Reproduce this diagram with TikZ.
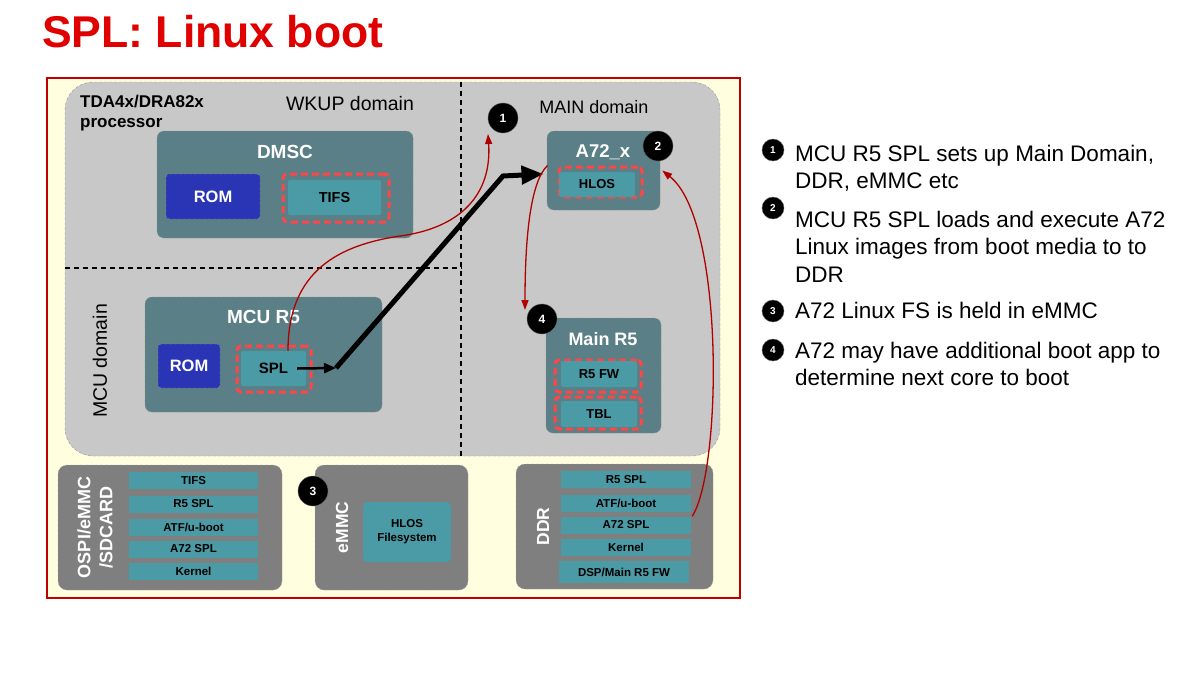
\documentclass[tikz,border=0pt]{standalone}
\usepackage{fontspec}
\setmainfont{Liberation Sans}
\usetikzlibrary{positioning,arrows.meta,calc}
\definecolor{SlideRed}{HTML}{E00000}
\definecolor{FrameRed}{HTML}{C00000}
\definecolor{PanelYellow}{HTML}{FFFFE0}
\definecolor{SocGray}{HTML}{C8C8C8}
\definecolor{CoreTeal}{HTML}{5B7F86}
\definecolor{RomBlue}{HTML}{2A35B6}
\definecolor{FwTeal}{HTML}{4A9BA6}
\definecolor{MediaGray}{HTML}{7F7F7F}
\definecolor{DashRed}{HTML}{FF4646}
\definecolor{FlowRed}{HTML}{B00000}

\begin{document}
\begin{tikzpicture}[
  x=1pt, y=-1pt,
  core/.style={draw=black!45, densely dashed, fill=CoreTeal, rounded corners=7pt, inner sep=0pt},
  corelabel/.style={anchor=base, text=white, inner sep=0pt, font=\bfseries\fontsize{19}{22}\selectfont},
  rom/.style={draw=black!45, densely dashed, fill=RomBlue, rounded corners=3pt, inner sep=0pt, text=white, font=\bfseries\fontsize{16.5}{19}\selectfont},
  fw/.style={fill=FwTeal, rounded corners=2pt, inner sep=0pt, font=\bfseries\fontsize{13}{15}\selectfont},
  selbox/.style={draw=DashRed, line width=3pt, dash pattern=on 7pt off 4pt, rounded corners=4pt, inner sep=0pt},
  media/.style={draw=black!35, densely dashed, fill=MediaGray, rounded corners=9pt, inner sep=0pt},
  medialabel/.style={rotate=90, text=white, align=center, inner sep=0pt, font=\bfseries\fontsize{18}{22}\selectfont},
  imgitem/.style={fill=FwTeal, minimum width=129pt, minimum height=17pt, inner sep=0pt, font=\bfseries\fontsize{11.5}{13}\selectfont},
  badge/.style={circle, fill=black, draw=black!60, text=white, inner sep=0pt, minimum size=30pt, font=\bfseries\fontsize{12}{12}\selectfont},
  listbadge/.style={badge, minimum size=22pt, font=\bfseries\fontsize{10}{10}\selectfont},
  note/.style={anchor=north west, align=left, inner sep=0pt, font=\fontsize{22.5}{27.5}\selectfont},
  domainsep/.style={black, line width=1.3pt, dash pattern=on 5pt off 4pt},
  flow/.style={FlowRed, line width=1.3pt, -{Triangle[length=10pt,width=7pt]}},
  splarrow/.style={black, line width=2.5pt, -{Triangle[length=12pt,width=10pt]}},
  bootpath/.style={black, line width=5pt, line join=miter, -{Triangle[length=22pt,width=18pt]}},
]
\useasboundingbox (0,0) rectangle (1200,675);

\node[anchor=base west, inner sep=0pt, text=SlideRed, font=\bfseries\fontsize{44.5}{50}\selectfont] (title) at (42,47) {SPL: Linux boot};

\node[draw=FrameRed, line width=2pt, fill=PanelYellow, minimum width=693pt, minimum height=520pt, inner sep=0pt] (board) at (393.5,338) {};
\node[draw=black!40, densely dashed, fill=SocGray, rounded corners=28pt, minimum width=655pt, minimum height=374pt, inner sep=0pt] (soc) at (392.5,269) {};
\coordinate (split) at (461,268);
\draw[domainsep] (split |- soc.north) -- (split |- soc.south);
\draw[domainsep] (soc.west |- split) -- (split);

\node[anchor=north west, align=left, inner sep=0pt, font=\bfseries\fontsize{17}{20}\selectfont] (soclabel) at (80,95) {TDA4x/DRA82x\\processor};
\node[anchor=base, inner sep=0pt, font=\fontsize{19.5}{22}\selectfont] (wkup) at (350,110) {WKUP domain};
\node[anchor=base, inner sep=0pt, font=\fontsize{18}{22}\selectfont] (main) at (594,113) {MAIN domain};
\node[rotate=90, inner sep=0pt, font=\fontsize{19.5}{22}\selectfont] (mcu) at (100,361) {MCU domain};

\node[core, minimum width=256pt, minimum height=107pt] (dmsc) at (285,184.5) {};
\node[corelabel] (dmsctitle) at (285,158) {DMSC};
\node[rom, minimum width=94pt, minimum height=45pt] (dmscrom) at (213,196.5) {ROM};
\node[selbox, minimum width=106pt, minimum height=48pt] (tifssel) at (336,198) {};
\node[fw, minimum width=93pt, minimum height=35pt, font=\bfseries\fontsize{14.5}{16}\selectfont] (tifs) at (334.5,197.5) {TIFS};

\node[core, minimum width=237pt, minimum height=115pt] (mcur5) at (263.5,354.5) {};
\node[corelabel] (mcur5title) at (263.5,323) {MCU R5};
\node[rom, minimum width=62pt, minimum height=44pt] (mcurom) at (189,366) {ROM};
\node[selbox, minimum width=74pt, minimum height=46pt] (splsel) at (274,369) {};
\node[fw, minimum width=65pt, minimum height=35pt, font=\bfseries\fontsize{15}{16}\selectfont] (spl) at (273.5,368.5) {SPL};

\node[core, minimum width=113pt, minimum height=79pt] (a72) at (603.5,170.5) {};
\node[corelabel, font=\bfseries\fontsize{18.5}{22}\selectfont] (a72title) at (603,157) {A72\_x};
\node[selbox, minimum width=83pt, minimum height=30pt] (hlossel) at (600.5,182) {};
\node[fw, minimum width=76pt, minimum height=25pt] (hlos) at (597,184.5) {HLOS};

\node[core, minimum width=115pt, minimum height=115pt] (mainr5) at (603.5,375.5) {};
\node[corelabel, font=\bfseries\fontsize{18}{22}\selectfont] (mainr5title) at (603,345) {Main R5};
\node[selbox, minimum width=86pt, minimum height=32pt] (r5fwsel) at (598,376) {};
\node[fw, minimum width=76pt, minimum height=26pt] (r5fw) at (599,374) {R5 FW};
\node[selbox, minimum width=86pt, minimum height=32pt] (tblsel) at (598,413) {};
\node[fw, minimum width=76pt, minimum height=26pt] (tbl) at (599,414) {TBL};

\node[media, minimum width=224pt, minimum height=125pt] (ospi) at (170,527.5) {};
\node[medialabel] (ospilabel) at (95,527.5) {OSPI/eMMC\\/SDCARD};
\node[imgitem] (ospitifs) at (193.5,480.5) {TIFS};
\node[imgitem] (ospir5) at (193.5,504) {R5 SPL};
\node[imgitem] (ospiatf) at (193.5,527.5) {ATF/u-boot};
\node[imgitem] (ospia72) at (193.5,549) {A72 SPL};
\node[imgitem] (ospikernel) at (193.5,571.5) {Kernel};

\node[media, minimum width=153pt, minimum height=125pt] (emmc) at (391.5,527.5) {};
\node[medialabel, font=\bfseries\fontsize{17.5}{22}\selectfont] (emmclabel) at (342,527.5) {eMMC};
\node[fw, minimum width=88pt, minimum height=60pt, rounded corners=4pt, align=center, font=\bfseries\fontsize{11.5}{14}\selectfont] (hlosfs) at (407,532) {HLOS\\Filesystem};

\node[media, minimum width=197pt, minimum height=125pt] (ddr) at (614.5,526.5) {};
\node[medialabel, font=\bfseries\fontsize{17.5}{22}\selectfont] (ddrlabel) at (543,526.5) {DDR};
\node[imgitem, minimum width=130pt] (ddrr5) at (626,479.5) {R5 SPL};
\node[imgitem, minimum width=130pt] (ddratf) at (626,503.5) {ATF/u-boot};
\node[imgitem, minimum width=130pt] (ddra72) at (626,525) {A72 SPL};
\node[imgitem, minimum width=130pt] (ddrkernel) at (626,547) {Kernel};
\node[imgitem, minimum width=130pt, minimum height=22pt] (ddrfw) at (624,572) {DSP/Main R5 FW};

\coordinate (jump) at (336,368);
\coordinate (kink) at (503,176);
\draw[splarrow] ([xshift=-9pt]spl.east) -- (jump);
\draw[bootpath] (jump) -- (kink) -- ([shift={(-14,-8)}]hlossel.west);

\node[badge] (one) at (503,118) {1};
\node[badge] (two) at (658,146) {2};
\node[badge] (three) at (313,491) {3};
\node[badge] (four) at (542,319) {4};

\draw[flow] ([xshift=14.5pt]spl.north) .. controls (288,270) and (340,245) .. (400,236)
  .. controls (460,228) and (492,195) .. ([shift={(-15,16)}]one.center);
\draw[flow] ([xshift=-10pt]hlossel.north west) .. controls (530,182) and (525,240) .. ([shift={(-17,-9)}]four.center);
\draw[flow] ([xshift=1pt]ddra72.north east) .. controls (722,470) and (725,220) .. ([xshift=2pt]a72.east);

\node[listbadge] (n1) at (773,150) {1};
\node[listbadge] (n2) at (773,208) {2};
\node[listbadge] (n3) at (773,311) {3};
\node[listbadge] (n4) at (773,350) {4};
\node[note] (note1) at (795,144.7) {MCU R5 SPL sets up Main Domain,\\DDR, eMMC etc};
\node[note] (note2) at (795,210.7) {MCU R5 SPL loads and execute A72\\Linux images from boot media to to\\DDR};
\node[note] (note3) at (795,301.7) {A72 Linux FS is held in eMMC};
\node[note] (note4) at (795,341.7) {A72 may have additional boot app to\\determine next core to boot};
\end{tikzpicture}
\end{document}
